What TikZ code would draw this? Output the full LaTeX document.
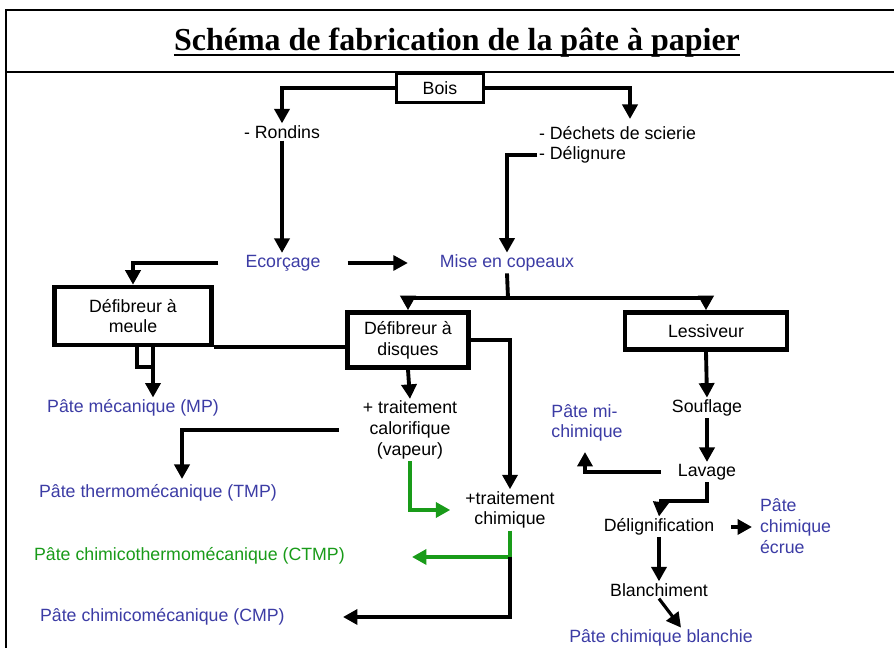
\documentclass[tikz,border=0pt]{standalone}
\usepackage{fontspec}
\setmainfont{Liberation Serif}
\setsansfont{Liberation Sans}
\usepackage{xcolor}
\usetikzlibrary{arrows.meta}

\definecolor{bleu}{RGB}{60,60,165}
\definecolor{vert}{RGB}{25,155,25}

\tikzset{
  lbl/.style={font=\sffamily\fontsize{10.1}{11.8}\selectfont, align=center, inner sep=1pt},
  pate/.style={lbl, text=bleu},
  boite/.style={lbl, draw, line width=2.6pt},
  titre/.style={font=\bfseries\fontsize{18.2}{20}\selectfont, inner sep=0pt},
}

\begin{document}
\begin{tikzpicture}[x=0.02cm, y=-0.02cm,
  fleche/.style={line width=2.2pt, -{Triangle[length=0.29cm, width=0.3cm]}},
  trait/.style={line width=2.2pt}]

\useasboundingbox (0,0) rectangle (894,648);
\fill[white] (0,0) rectangle (894,648);

% cadre et titre
\draw[line width=1.3pt] (6,648) -- (6,10) -- (894,10);
\draw[line width=1.3pt] (6,72) -- (894,72);
\node[titre] (titre) at (457,43) {Schéma de fabrication de la pâte à papier};
\draw[line width=1.1pt] ([yshift=-2.5pt]titre.base west) -- ([yshift=-2.5pt]titre.base east);

% noeuds
\node[boite, line width=1.2pt, minimum width=1.74cm, minimum height=0.58cm] (bois) at (440,88) {Bois};
\node[lbl] (rond) at (282,132) {- Rondins};
\node[lbl, anchor=west] (dech) at (537,133) {- Déchets de scierie};
\node[lbl, anchor=west] (delig) at (537,155) {- Délignure};
\node[pate] (ecorc) at (283,263) {Ecorçage};
\node[pate] (mise) at (507,263) {Mise en copeaux};
\node[boite, minimum width=3.14cm, minimum height=1.16cm] (meule) at (133,316) {Défibreur à\\meule};
\node[boite, minimum width=2.42cm, minimum height=1.1cm] (disq) at (408,340) {Défibreur à\\disques};
\node[boite, minimum width=3.24cm, minimum height=0.74cm] (less) at (706,331) {Lessiveur};
\node[pate] (mp) at (133,408) {Pâte mécanique (MP)};
\node[lbl] (calo) at (410,430) {+ traitement\\calorifique\\(vapeur)};
\node[lbl] (chim) at (510,510) {+traitement\\chimique};
\node[pate, anchor=west] (tmp) at (37,493) {Pâte thermomécanique (TMP)};
\node[lbl, text=vert, anchor=west] (ctmp) at (32,556) {Pâte chimicothermomécanique (CTMP)};
\node[pate, anchor=west] (cmp) at (38,617) {Pâte chimicomécanique (CMP)};
\node[lbl] (souf) at (707,408) {Souflage};
\node[lbl] (lav) at (707,472) {Lavage};
\node[pate, align=left] (pmi) at (587,423) {Pâte mi-\\chimique};
\node[lbl] (deli) at (659,527) {Délignification};
\node[pate, align=left, anchor=west] (ecrue) at (758,526) {Pâte\\chimique\\écrue};
\node[lbl] (blanc) at (659,590) {Blanchiment};
\node[pate] (blanchie) at (661,638) {Pâte chimique blanchie};

% points de passage
\coordinate (dechfl) at (630,119);
\coordinate (fourche) at (508,298);
\coordinate (mpmeule) at (153,345);
\coordinate (tmpfl) at (182,479);
\coordinate (ctmpfl) at (412,557);
\coordinate (cmpfl) at (343,617);
\coordinate (pmifl) at (585,452);
\coordinate (delicoin) at (661,501);

% liaisons
\draw[fleche] (bois.west) -| (rond.north);
\draw[fleche] (bois.east) -| (dechfl);
\draw[fleche] (rond.south) -- (rond.south |- ecorc.north);
\draw[fleche] (delig.west) -| (mise.north);
\draw[fleche, line width=1.8pt, shorten <=0.5cm, shorten >=0.6cm] (ecorc.east) -- (mise.west);
\draw[fleche, shorten <=0.5cm] (ecorc.west) -| (meule.north);
\draw[trait] (mise.south) -- (fourche);
\draw[fleche] (fourche) -| (disq.north);
\draw[fleche] (fourche) -| (less.north);
\draw[trait] (meule.south east) -- (meule.south east -| disq.west);
\draw[trait] (137,345) |- (153,367);
\draw[fleche] (mpmeule) -- (mpmeule |- mp.north);
\draw[fleche] (disq.south) -- (calo.north);
\draw[fleche] (disq.east) -| (chim.north);
\draw[fleche, shorten <=0.44cm] (calo.west) -| (tmpfl);
\draw[fleche, vert, shorten >=0.26cm] (calo.south) |- (chim.west);
\draw[fleche, vert] (chim.south) |- (ctmpfl);
\draw[fleche] (chim.south |- ctmpfl) |- (cmpfl);
\draw[fleche] (less.south) -- (souf.north);
\draw[fleche] (souf.south) -- (lav.north);
\draw[fleche, shorten <=0.3cm] (lav.west) -| (pmifl);
\draw[fleche] (lav.south) |- (delicoin) -- (deli.north);
\draw[fleche, shorten <=0.3cm, shorten >=0.12cm] (deli.east) -- (ecrue.west |- deli.east);
\draw[fleche] (deli.south) -- (blanc.north);
\draw[fleche, line width=1.8pt] (blanc.south) -- ([xshift=0.4cm]blanchie.north);
\end{tikzpicture}
\end{document}
